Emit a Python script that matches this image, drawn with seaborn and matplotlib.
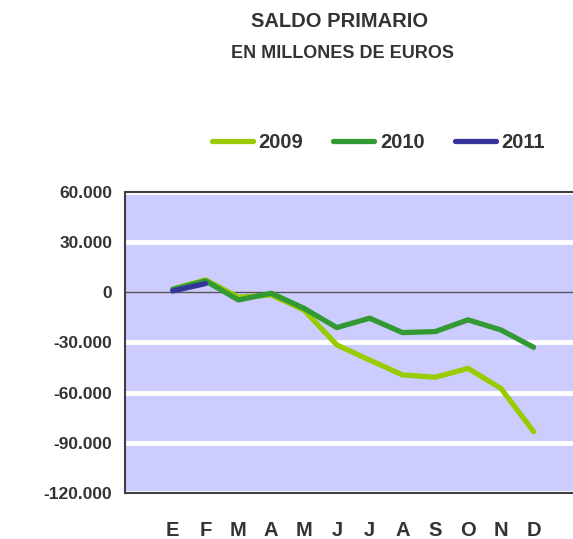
# SALDO PRIMARIO - monthly primary balance, millions of euros

import pandas as pd
import matplotlib.pyplot as plt
import seaborn as sns

# DATA
months = ["E", "F", "M", "A", "M", "J", "J", "A", "S", "O", "N", "D"]
saldo_2009 = [1800, 7400, -3000, -1600, -10600, -31500, -40500, -49400, -50800, -45500, -57400, -83300]
saldo_2010 = [1800, 6800, -4600, -600, -9600, -21100, -15500, -24100, -23500, -16500, -22500, -32900]
saldo_2011 = [800, 5200]
years = ["2009", "2010", "2011"]
colors = ["#99CC00", "#339933", "#333399"]
yticks = [60000, 30000, 0, -30000, -60000, -90000, -120000]

rows = []
for year, vals in zip(years, [saldo_2009, saldo_2010, saldo_2011]):
    for i, v in enumerate(vals):
        rows.append({"mes": i, "saldo": v, "year": year})
df = pd.DataFrame(rows)

# STYLE
sns.set_style("white")
plt.rcParams["font.family"] = ["Liberation Sans", "DejaVu Sans"]
text_color = "#333333"

fig = plt.figure(figsize=(5.73, 5.39), dpi=100)
ax = fig.add_axes([0.218, 0.0853, 0.782, 0.5587])
ax.set_facecolor("#CCCCFF")

sns.lineplot(data=df, x="mes", y="saldo", hue="year", palette=colors,
             linewidth=3.8, ax=ax, legend=False, zorder=3,
             solid_capstyle="round", solid_joinstyle="round")

# gridlines
for t in yticks:
    if t == 0:
        ax.axhline(0, color="#555555", linewidth=1, zorder=2)
    else:
        ax.axhline(t, color="white", linewidth=3.5, zorder=1)

ax.set_ylim(-120000, 60000)
ax.set_xlim(-1.46, 12.2)
ax.set_yticks(yticks)
ax.set_yticklabels([f"{t:,}".replace(",", ".") for t in yticks],
                   fontsize=12.5, fontweight="bold", color=text_color)
ax.set_xticks(range(12))
ax.set_xticklabels(months, fontsize=14.5, fontweight="bold", color=text_color)
ax.tick_params(axis="y", length=0, pad=9)
ax.tick_params(axis="x", length=0, pad=20)
ax.set_xlabel("")
ax.set_ylabel("")

for side in ["left", "bottom", "top"]:
    ax.spines[side].set_color("#404040")
    ax.spines[side].set_linewidth(1.5)
ax.spines["right"].set_visible(False)

# TITLES
fig.text(0.593, 0.96, "SALDO PRIMARIO", ha="center", va="center",
         fontsize=14.5, fontweight="bold", color=text_color)
fig.text(0.597, 0.901, "EN MILLONES DE EUROS", ha="center", va="center",
         fontsize=13, fontweight="bold", color=text_color)

# LEGEND
handles = [plt.Line2D([], [], color=c, linewidth=3.8, solid_capstyle="round") for c in colors]
fig.legend(handles, years, loc="center", bbox_to_anchor=(0.66, 0.735), ncol=3,
           frameon=False, handlelength=2.04, handletextpad=0.27, columnspacing=1.5,
           prop={"size": 14.5, "weight": "bold"}, labelcolor=text_color)

plt.savefig("out.png", dpi=100)
